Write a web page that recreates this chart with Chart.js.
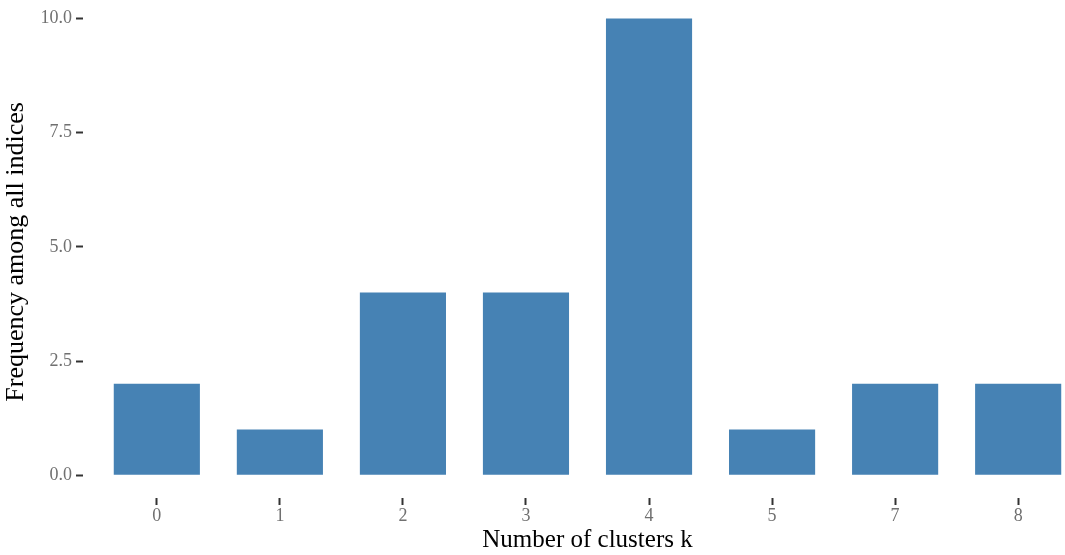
<!DOCTYPE html>
<html>
<head>
<meta charset="utf-8">
<script src="https://cdn.jsdelivr.net/npm/chart.js@4/dist/chart.umd.min.js"></script>
<style>
	html, body { margin: 0; padding: 0; background: #fff; overflow: hidden; }
	/* the reference panel runs past the right edge, so the canvas does too */
	#wrap { width: 1092px; height: 564px; position: relative; top: -9px; }
</style>
</head>
<body>
<div id="wrap"><canvas id="canvas"></canvas></div>
<script>
var clusters = ["0", "1", "2", "3", "4", "5", "7", "8"];
var frequency = [2, 1, 4, 4, 10, 1, 2, 2];
var yTicks = [0, 2.5, 5, 7.5, 10];

var points = [];
for (var i = 0; i < clusters.length; i++) {
	points.push({ x: i, y: frequency[i] });
}

var serif = "'Liberation Serif', 'DejaVu Serif', serif";

var ctx = document.getElementById("canvas").getContext("2d");
var chart = new Chart(ctx, {
	type: "bar",
	data: {
		datasets: [{
			data: points,
			backgroundColor: "#4682B4",
			borderWidth: 0,
			barPercentage: 0.7,
			categoryPercentage: 1.0
		}]
	},
	options: {
		responsive: true,
		maintainAspectRatio: false,
		animation: false,
		layout: { padding: 0 },
		plugins: {
			legend: { display: false },
			tooltip: { enabled: false }
		},
		scales: {
			x: {
				type: "linear",
				min: -0.6,
				max: 7.6,
				offset: false,
				afterBuildTicks: function(axis) {
					axis.ticks = clusters.map(function(c, i) { return { value: i }; });
				},
				afterFit: function(axis) { axis.height = 57; },
				grid: { offset: false, drawOnChartArea: false, drawTicks: true, tickLength: 7, tickWidth: 2, color: "#333" },
				border: { display: false },
				ticks: {
					autoSkip: false,
					maxRotation: 0,
					padding: 0,
					color: "#707070",
					font: { family: serif, size: 18 },
					callback: function(v) { return clusters[v]; }
				},
				title: {
					display: true,
					text: "Number of clusters k",
					color: "#000",
					font: { family: serif, size: 25 },
					padding: { top: 0, bottom: 0 }
				}
			},
			y: {
				type: "linear",
				min: -0.5,
				max: 10.28,
				afterBuildTicks: function(axis) {
					axis.ticks = yTicks.map(function(v) { return { value: v }; });
				},
				afterFit: function(axis) { axis.width = 83; },
				grid: { drawOnChartArea: false, drawTicks: true, tickLength: 7, tickWidth: 2, color: "#333" },
				border: { display: false },
				ticks: {
					padding: 4,
					color: "#707070",
					font: { family: serif, size: 18 },
					callback: function(v) { return v.toFixed(1); }
				},
				title: {
					display: true,
					text: "Frequency among all indices",
					color: "#000",
					font: { family: serif, size: 26 },
					padding: { top: 1, bottom: 0 }
				}
			}
		}
	}
});
</script>
</body>
</html>
